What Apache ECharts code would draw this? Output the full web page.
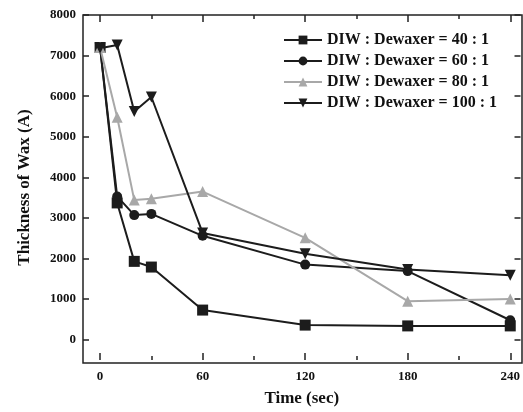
<!DOCTYPE html>
<html><head><meta charset="utf-8">
<script src="https://cdn.jsdelivr.net/npm/echarts@6/dist/echarts.min.js"></script>
<style>html,body{margin:0;padding:0;background:#fff}#c{width:523px;height:412px}</style>
</head><body><div id="c"></div>
<script>
const times = [0, 10, 20, 30, 60, 120, 180, 240];
const names = ['DIW : Dewaxer = 40 : 1', 'DIW : Dewaxer = 60 : 1', 'DIW : Dewaxer = 80 : 1', 'DIW : Dewaxer = 100 : 1'];
const ratio40 = [7200, 3370, 1930, 1790, 730, 360, 340, 340];
const ratio60 = [7200, 3530, 3070, 3100, 2560, 1850, 1690, 480];
const ratio80 = [7200, 5480, 3440, 3470, 3650, 2510, 950, 1000];
const ratio100 = [7180, 7260, 5620, 5980, 2630, 2120, 1730, 1590];
const xTicks = [0, 60, 120, 180, 240];
const xMinorTicks = [30, 90, 150, 210];
const yTicks = [0, 1000, 2000, 3000, 4000, 5000, 6000, 7000, 8000];

const font = 'Liberation Serif';
const dark = '#1c1c1c', gray = '#a8a8a8';
function pairs(v){ return times.map((t,i)=>[t, v[i]]); }
function ser(name, data, color, symbol, rotate){
  return { name, type:'line', data:pairs(data), symbol, symbolSize: symbol==='circle'?10:11,
    symbolRotate: rotate||0,
    lineStyle:{color, width:2}, itemStyle:{color}, z:2 };
}
const tickStyle = {color:'#222', width:1.5};
function xAx(pos, show, ticks, len){
  return {
    type:'value', min:-10, max:246, position:pos,
    name: show ? 'Time (sec)' : '', nameLocation:'middle', nameGap:30,
    nameTextStyle:{fontFamily:font, fontWeight:'bold', fontSize:17, color:'#111'},
    axisLine:{show:false, onZero:false},
    axisTick:{show:true, inside:true, length:len, customValues:ticks, lineStyle:tickStyle},
    axisLabel:{show:show, customValues:ticks, margin:10, fontFamily:font, fontWeight:'bold', fontSize:13, color:'#111', formatter:v=>String(v)},
    splitLine:{show:false}
  };
}
function yAx(pos, show){
  return {
    type:'value', min:-500, max:8000, position:pos,
    name: show ? 'Thickness of Wax (A)' : '', nameLocation:'middle', nameGap:50,
    nameTextStyle:{fontFamily:font, fontWeight:'bold', fontSize:17, color:'#111'},
    axisLine:{show:false, onZero:false},
    axisTick:{show:true, inside:true, length:6, customValues:yTicks, lineStyle:tickStyle},
    axisLabel:{show:show, customValues:yTicks, margin:7, fontFamily:font, fontWeight:'bold', fontSize:13, color:'#111', formatter:v=>String(v)},
    splitLine:{show:false}
  };
}
const chart = echarts.init(document.getElementById('c'), null, {renderer:'canvas'});
chart.setOption({
  animation:false,
  backgroundColor:'#fff',
  grid:{left:83, top:15, right:1, bottom:49},
  legend:{
    orient:'vertical', left:278, top:27, itemWidth:38, itemHeight:11, itemGap:5,
    textStyle:{fontFamily:font, fontWeight:'bold', fontSize:16, color:'#111'},
    data:names
  },
  xAxis:[
    xAx('bottom', true, xTicks, 7), xAx('top', false, xTicks, 7),
    xAx('bottom', false, xMinorTicks, 4), xAx('top', false, xMinorTicks, 4)
  ],
  yAxis:[yAx('left', true), yAx('right', false)],
  series:[
    ser(names[0], ratio40, dark, 'rect'),
    ser(names[1], ratio60, dark, 'circle'),
    ser(names[2], ratio80, gray, 'triangle'),
    ser(names[3], ratio100, dark, 'triangle', 180)
  ],
  graphic:[
    {type:'rect', shape:{x:83, y:15, width:439, height:348}, style:{fill:null, stroke:'#222', lineWidth:1.5}, silent:true, z:10}
  ]
});
</script></body></html>
